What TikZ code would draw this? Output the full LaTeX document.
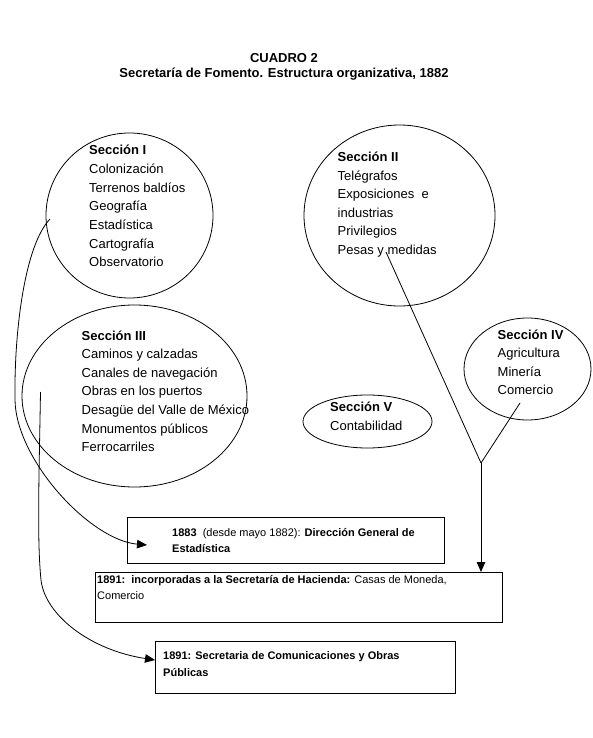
\documentclass[tikz,border=0pt]{standalone}
\usepackage{fontspec}
\setmainfont{Liberation Sans}
\usetikzlibrary{shapes.geometric,arrows.meta}
\newcommand{\blk}[2]{\vtop{\baselineskip=#1\lineskiplimit=-100pt\lineskip=0pt\relax #2}}
\begin{document}
\begin{tikzpicture}[x=1pt,y=-1pt,
  sec/.style={draw, ellipse, inner sep=0pt, line width=0.8pt},
  boxnode/.style={draw, rectangle, inner sep=0pt, anchor=north west, line width=0.8pt},
  secfont/.style={font=\fontsize{13}{18.6}\selectfont, inner sep=0pt, anchor=base west},
  boxfont/.style={font=\fontsize{11}{16}\selectfont, inner sep=0pt, anchor=base west},
  titlefont/.style={font=\fontsize{13}{15}\selectfont\bfseries, inner sep=0pt, anchor=base},
  conn/.style={line width=0.8pt},
  tip/.style={-{Triangle[length=10pt,width=8.5pt]}}
]
\useasboundingbox (0,0) rectangle (592,738);
\fill[white] (0,0) rectangle (592,738);

% title
\node[titlefont] (tA) at (284,63) {CUADRO 2};
\node[titlefont] (tB) at (284,78) {Secretaría de Fomento. Estructura organizativa, 1882};

% sections
\node[sec, minimum width=167pt, minimum height=165pt] (s1) at (129.5,215.5) {};
\node[sec, minimum width=191pt, minimum height=181pt] (s2) at (399.5,215.5) {};
\node[sec, minimum width=225pt, minimum height=182pt] (s3) at (134.5,396) {};
\node[sec, minimum width=127pt, minimum height=102pt] (s4) at (527.5,369) {};
\node[sec, minimum width=129pt, minimum height=53pt] (s5) at (367.5,421.5) {};

\node[secfont] (l1) at (89,155) {\blk{18.6pt}{\hbox{\bfseries Sección I}\hbox{Colonización}\hbox{Terrenos baldíos}\hbox{Geografía}\hbox{Estadística}\hbox{Cartografía}\hbox{Observatorio}}};
\node[secfont] (l2) at (337.5,161.5) {\blk{18.6pt}{\hbox{\bfseries Sección II}\hbox{Telégrafos}\hbox{Exposiciones\ \ e}\hbox{industrias}\hbox{Privilegios}\hbox{Pesas y medidas}}};
\node[secfont] (l3) at (81.5,340) {\blk{18.6pt}{\hbox{\bfseries Sección III}\hbox{Caminos y calzadas}\hbox{Canales de navegación}\hbox{Obras en los puertos}\hbox{Desagüe del Valle de México}\hbox{Monumentos públicos}\hbox{Ferrocarriles}}};
\node[secfont] (l4) at (497.5,339) {\blk{18.6pt}{\hbox{\bfseries Sección IV}\hbox{Agricultura}\hbox{Minería}\hbox{Comercio}}};
\node[secfont] (l5) at (330,411.5) {\blk{18.6pt}{\hbox{\bfseries Sección V}\hbox{Contabilidad}}};

% boxes
\node[boxnode, minimum width=317pt, minimum height=46pt] (b1) at (127,517) {};
\node[boxnode, minimum width=407pt, minimum height=50pt] (b2) at (95,572) {};
\node[boxnode, minimum width=300pt, minimum height=52pt] (b3) at (155,641) {};

\node[boxfont] (bt1) at (172,536) {\blk{16pt}{\hbox{\bfseries 1883\mdseries\ \ (desde mayo 1882): \bfseries Dirección General de}\hbox{\bfseries Estadística}}};
\node[boxfont] (bt2) at (97,583) {\blk{16.5pt}{\hbox{\bfseries 1891:\ \ incorporadas a la Secretaría de Hacienda: \mdseries Casas de Moneda,}\hbox{Comercio}}};
\node[boxfont] (bt3) at (163,659) {\blk{17pt}{\hbox{\bfseries 1891: Secretaria de Comunicaciones y Obras}\hbox{\bfseries Públicas}}};

% connectors
\coordinate (c1s) at (50,219);
\coordinate (c1m) at (15,400);
\coordinate (c1e) at (147,545);
\draw[conn, tip] (c1s) .. controls (25,245) and (14,330) .. (c1m) .. controls (16,460) and (90,540) .. (c1e);

\coordinate (c2s) at (40.5,392);
\coordinate (c2m) at (41,580);
\coordinate (c2e) at (155,660);
\draw[conn, tip] (c2s) .. controls (39,480) and (37,540) .. (c2m) .. controls (45,615) and (90,650) .. (c2e);

\coordinate (c3s) at (386,252);
\coordinate (c4s) at (520,403);
\coordinate (j) at (481,463);
\draw[conn] (c3s) -- (j);
\draw[conn] (c4s) -- (j);
\draw[conn, tip] (j) -- (j |- b2.north);
\end{tikzpicture}
\end{document}
